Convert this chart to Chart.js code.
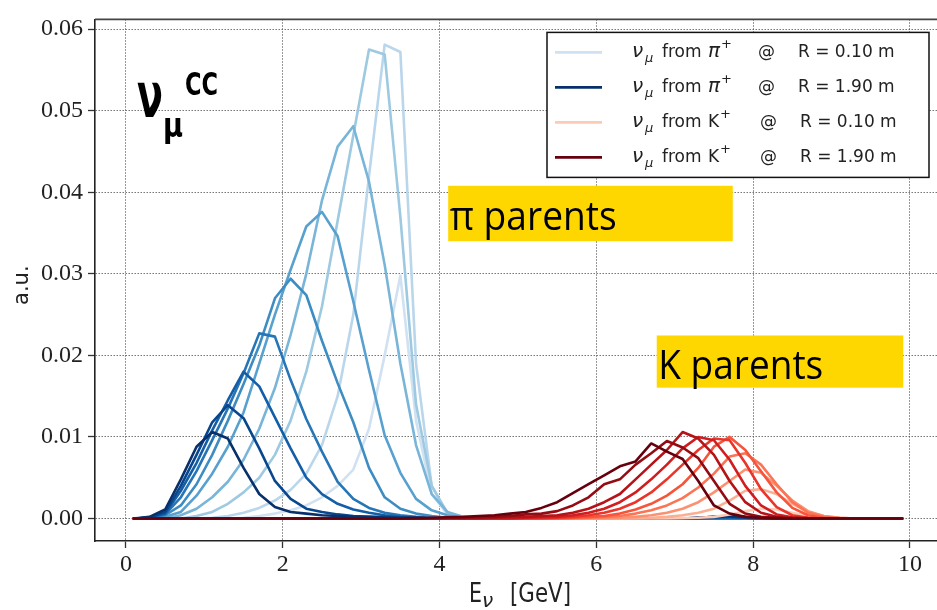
<!DOCTYPE html>
<html>
<head>
<meta charset="utf-8">
<script src="https://cdn.jsdelivr.net/npm/chart.js@4.4.1/dist/chart.umd.min.js"></script>
<style>
  html, body { margin: 0; padding: 0; background: #fff; }
  #wrap { width: 937px; height: 610px; }
</style>
</head>
<body>
<div id="wrap"><canvas id="fluxChart" width="937" height="610"></canvas></div>
<script>
// bin centres [GeV]
const energy = [0.1, 0.3, 0.5, 0.7, 0.9, 1.1, 1.3, 1.5, 1.7, 1.9,
                2.1, 2.3, 2.5, 2.7, 2.9, 3.1, 3.3, 3.5, 3.7, 3.9,
                4.1, 4.3, 4.5, 4.7, 4.9, 5.1, 5.3, 5.5, 5.7, 5.9,
                6.1, 6.3, 6.5, 6.7, 6.9, 7.1, 7.3, 7.5, 7.7, 7.9,
                8.1, 8.3, 8.5, 8.7, 8.9, 9.1, 9.3, 9.5, 9.7, 9.9];

const radii = ["0.10", "0.30", "0.50", "0.70", "0.90", "1.10", "1.30", "1.50", "1.70", "1.90"];

// nu_mu from pi+ , one array per radius
const pi_R010 = [0, 0, 0, 0, 0, 0, 0, 0.0001, 0.0003, 0.0006,
                 0.0010, 0.0016, 0.0026, 0.0040, 0.0060, 0.0110, 0.0200, 0.0298, 0.0120, 0.0030,
                 0.0005, 0, 0, 0, 0, 0, 0, 0, 0, 0,
                 0, 0, 0, 0, 0, 0, 0, 0, 0, 0,
                 0, 0, 0, 0, 0, 0, 0, 0, 0, 0];
const pi_R030 = [0, 0, 0, 0, 0, 0.0001, 0.0003, 0.0007, 0.0013, 0.0022,
                 0.0035, 0.0055, 0.0090, 0.0150, 0.0250, 0.0420, 0.0581, 0.0572, 0.0190, 0.0040,
                 0.0005, 0, 0, 0, 0, 0, 0, 0, 0, 0,
                 0, 0, 0, 0, 0, 0, 0, 0, 0, 0,
                 0, 0, 0, 0, 0, 0, 0, 0, 0, 0];
const pi_R050 = [0, 0, 0, 0, 0.0003, 0.0008, 0.0018, 0.0032, 0.0050, 0.0078,
                 0.0120, 0.0180, 0.0260, 0.0365, 0.0470, 0.0575, 0.0569, 0.0370, 0.0140, 0.0040,
                 0.0007, 0.0001, 0, 0, 0, 0, 0, 0, 0, 0,
                 0, 0, 0, 0, 0, 0, 0, 0, 0, 0,
                 0, 0, 0, 0, 0, 0, 0, 0, 0, 0];
const pi_R070 = [0, 0, 0, 0.0004, 0.0012, 0.0026, 0.0045, 0.0072, 0.0110, 0.0160,
                 0.0225, 0.0300, 0.0390, 0.0456, 0.0481, 0.0413, 0.0311, 0.0190, 0.0090, 0.0030,
                 0.0008, 0.0002, 0, 0, 0, 0, 0, 0, 0, 0,
                 0, 0, 0, 0, 0, 0, 0, 0, 0, 0,
                 0, 0, 0, 0, 0, 0, 0, 0, 0, 0];
const pi_R090 = [0, 0, 0.0002, 0.0008, 0.0028, 0.0055, 0.0088, 0.0130, 0.0190, 0.0250,
                 0.0305, 0.0358, 0.0376, 0.0346, 0.0266, 0.0182, 0.0102, 0.0056, 0.0024, 0.0010,
                 0.0004, 0.0001, 0, 0, 0, 0, 0, 0, 0, 0,
                 0, 0, 0, 0, 0, 0, 0, 0, 0, 0,
                 0, 0, 0, 0, 0, 0, 0, 0, 0, 0];
const pi_R110 = [0, 0.0001, 0.0004, 0.0016, 0.0042, 0.0078, 0.0120, 0.0165, 0.0212, 0.0270,
                 0.0294, 0.0274, 0.0218, 0.0166, 0.0118, 0.0062, 0.0026, 0.0012, 0.0006, 0.0003,
                 0.0001, 0, 0, 0, 0, 0, 0, 0, 0, 0,
                 0, 0, 0, 0, 0, 0, 0, 0, 0, 0,
                 0, 0, 0, 0, 0, 0, 0, 0, 0, 0];
const pi_R130 = [0, 0.0001, 0.0005, 0.0026, 0.0058, 0.0096, 0.0135, 0.0178, 0.0227, 0.0223,
                 0.0170, 0.0122, 0.0082, 0.0045, 0.0024, 0.0013, 0.0007, 0.0004, 0.0002, 0.0001,
                 0, 0, 0, 0, 0, 0, 0, 0, 0, 0,
                 0, 0, 0, 0, 0, 0, 0, 0, 0, 0,
                 0, 0, 0, 0, 0, 0, 0, 0, 0, 0];
const pi_R150 = [0, 0.0001, 0.0006, 0.0034, 0.0068, 0.0108, 0.0145, 0.0180, 0.0162, 0.0124,
                 0.0086, 0.0050, 0.0030, 0.0018, 0.0011, 0.0007, 0.0004, 0.0002, 0.0001, 0,
                 0, 0, 0, 0, 0, 0, 0, 0, 0, 0,
                 0, 0, 0, 0, 0, 0, 0, 0.0001, 0.0002, 0.0001,
                 0, 0, 0, 0, 0, 0, 0, 0, 0, 0];
const pi_R170 = [0, 0.0001, 0.0008, 0.0040, 0.0078, 0.0118, 0.0139, 0.0123, 0.0086, 0.0046,
                 0.0024, 0.0012, 0.0008, 0.0005, 0.0003, 0.0002, 0.0002, 0.0001, 0.0001, 0,
                 0, 0, 0, 0, 0, 0, 0, 0, 0, 0,
                 0, 0, 0, 0, 0, 0, 0.0001, 0.0002, 0.0002, 0.0001,
                 0, 0, 0, 0, 0, 0, 0, 0, 0, 0];
const pi_R190 = [0, 0.0002, 0.0011, 0.0048, 0.0088, 0.0106, 0.0098, 0.0062, 0.0030, 0.0014,
                 0.0008, 0.0006, 0.0004, 0.0003, 0.0002, 0.0002, 0.0001, 0.0001, 0.0001, 0,
                 0, 0, 0, 0, 0, 0, 0, 0, 0, 0,
                 0, 0, 0, 0, 0, 0, 0.0001, 0.0002, 0.0003, 0.0002,
                 0.0001, 0, 0, 0, 0, 0, 0, 0, 0, 0];

// nu_mu from K+ , one array per radius
const k_R010 = [0, 0, 0, 0, 0, 0, 0, 0, 0, 0,
                0, 0, 0, 0, 0, 0, 0, 0, 0, 0,
                0, 0, 0, 0, 0, 0, 0, 0, 0, 0,
                0, 0, 0, 0, 0, 0.00005, 0.0001, 0.0002, 0.0005, 0.0009,
                0.0012, 0.0011, 0.0007, 0.0003, 0.0001, 0.00003, 0, 0, 0, 0];
const k_R030 = [0, 0, 0, 0, 0, 0, 0, 0, 0, 0,
                0, 0, 0, 0, 0, 0, 0, 0, 0, 0,
                0, 0, 0, 0, 0, 0, 0, 0, 0, 0,
                0, 0, 0.00005, 0.0001, 0.0002, 0.0004, 0.0007, 0.0012, 0.0022, 0.0034,
                0.0036, 0.0030, 0.0018, 0.0008, 0.0003, 0.0001, 0, 0, 0, 0];
const k_R050 = [0, 0, 0, 0, 0, 0, 0, 0, 0, 0,
                0, 0, 0, 0, 0, 0, 0, 0, 0, 0,
                0, 0, 0, 0, 0, 0, 0, 0, 0, 0,
                0.00005, 0.0001, 0.0002, 0.0004, 0.0007, 0.0012, 0.0020, 0.0032, 0.0046, 0.0060,
                0.0056, 0.0040, 0.0022, 0.0009, 0.0003, 0.0001, 0, 0, 0, 0];
const k_R070 = [0, 0, 0, 0, 0, 0, 0, 0, 0, 0,
                0, 0, 0, 0, 0, 0, 0, 0, 0, 0,
                0, 0, 0, 0, 0, 0, 0, 0, 0, 0.0001,
                0.00015, 0.0003, 0.0006, 0.0010, 0.0016, 0.0025, 0.0038, 0.0055, 0.0076, 0.0080,
                0.0066, 0.0042, 0.0020, 0.0007, 0.0002, 0.00005, 0, 0, 0, 0];
const k_R090 = [0, 0, 0, 0, 0, 0, 0, 0, 0, 0,
                0, 0, 0, 0, 0, 0, 0, 0, 0, 0,
                0, 0, 0, 0, 0, 0, 0, 0, 0.0001, 0.0002,
                0.0003, 0.0006, 0.0011, 0.0018, 0.0028, 0.0042, 0.0062, 0.0088, 0.0100, 0.0084,
                0.0058, 0.0032, 0.0013, 0.0004, 0.0001, 0, 0, 0, 0, 0];
const k_R110 = [0, 0, 0, 0, 0, 0, 0, 0, 0, 0,
                0, 0, 0, 0, 0, 0, 0, 0, 0, 0,
                0, 0, 0, 0, 0, 0, 0.00005, 0.0001, 0.0002, 0.0004,
                0.0007, 0.0012, 0.0020, 0.0032, 0.0048, 0.0066, 0.0084, 0.0098, 0.0096, 0.0068,
                0.0036, 0.0014, 0.0004, 0.0001, 0, 0, 0, 0, 0, 0];
const k_R130 = [0, 0, 0, 0, 0, 0, 0, 0, 0, 0,
                0, 0, 0, 0, 0, 0, 0, 0, 0, 0,
                0, 0, 0, 0, 0, 0.0001, 0.00015, 0.0002, 0.0004, 0.0007,
                0.0012, 0.0020, 0.0032, 0.0048, 0.0066, 0.0086, 0.0100, 0.0096, 0.0072, 0.0040,
                0.0016, 0.0005, 0.00015, 0.00005, 0, 0, 0, 0, 0, 0];
const k_R150 = [0, 0, 0, 0, 0, 0, 0, 0, 0, 0,
                0, 0, 0, 0, 0, 0, 0, 0, 0, 0,
                0, 0, 0.00005, 0.0001, 0.00015, 0.0002, 0.0003, 0.0004, 0.0007, 0.0012,
                0.0020, 0.0030, 0.0048, 0.0066, 0.0084, 0.0106, 0.0098, 0.0078, 0.0046, 0.0020,
                0.0007, 0.0002, 0.0001, 0, 0, 0, 0, 0, 0, 0];
const k_R170 = [0, 0, 0, 0, 0, 0, 0, 0, 0, 0,
                0, 0, 0, 0, 0, 0, 0, 0, 0, 0,
                0.0001, 0.0001, 0.00015, 0.0002, 0.0003, 0.0005, 0.0006, 0.0009, 0.0016, 0.0026,
                0.0042, 0.0048, 0.0066, 0.0080, 0.0095, 0.0087, 0.0074, 0.0046, 0.0018, 0.0006,
                0.0002, 0.0001, 0, 0, 0, 0, 0, 0, 0, 0];
const k_R190 = [0, 0, 0, 0, 0, 0, 0, 0, 0, 0,
                0, 0, 0, 0, 0, 0, 0, 0, 0.00005, 0.0001,
                0.00015, 0.0002, 0.0003, 0.0004, 0.0006, 0.0008, 0.0013, 0.0020, 0.0031, 0.0042,
                0.0053, 0.0064, 0.0070, 0.0092, 0.0082, 0.0073, 0.0046, 0.0016, 0.0006, 0.0002,
                0.0001, 0.00005, 0, 0, 0, 0, 0, 0, 0, 0];

const piFlux = [pi_R010, pi_R030, pi_R050, pi_R070, pi_R090, pi_R110, pi_R130, pi_R150, pi_R170, pi_R190];
const kFlux = [k_R010, k_R030, k_R050, k_R070, k_R090, k_R110, k_R130, k_R150, k_R170, k_R190];

const xTicks = [0, 2, 4, 6, 8, 10];
const yTicks = [0, 0.01, 0.02, 0.03, 0.04, 0.05, 0.06];

// Blues / Reds colormap samples, light (R=0.10) -> dark (R=1.90)
const blueColors = ["#d0e1f2", "#bad6eb", "#9dc9e1", "#78b5d9", "#58a1cf",
                    "#3d8dc3", "#2676b7", "#135ea7", "#08478e", "#08306b"];
const redColors = ["#fdcab5", "#fcae92", "#fc9171", "#fb7454", "#f6553c",
                   "#ea362a", "#d01d1f", "#b51318", "#930b13", "#67000d"];

function makeLine(label, vals, color) {
  return {
    label,
    data: energy.map((e, j) => ({ x: e, y: vals[j] })),
    borderColor: color,
    backgroundColor: color,
    borderWidth: 2.6,
    pointRadius: 0,
    tension: 0,
    fill: false,
    borderJoinStyle: "round",
    borderCapStyle: "round"
  };
}

const datasets = [];
piFlux.forEach((v, i) => datasets.push(makeLine(`nu_mu from pi+ @ R = ${radii[i]} m`, v, blueColors[i])));
kFlux.forEach((v, i) => datasets.push(makeLine(`nu_mu from K+ @ R = ${radii[i]} m`, v, redColors[i])));
// later datasets on top
datasets.forEach((d, i) => { d.order = -i; });

const legendRows = [
  { color: blueColors[0], parent: "pi", r: radii[0] },
  { color: blueColors[9], parent: "pi", r: radii[9] },
  { color: redColors[0], parent: "K", r: radii[0] },
  { color: redColors[9], parent: "K", r: radii[9] }
];

const boxes = [
  { text: "π parents", x0: 4.11, x1: 7.74, y0: 0.0340, y1: 0.0408, tx0: 4.13, tx1: 6.26, ty: 0.0354 },
  { text: "K parents", x0: 6.77, x1: 9.915, y0: 0.01604, y1: 0.02244, tx0: 6.79, tx1: 8.894, ty: 0.01716 }
];

function fitText(ctx, text, x, y, width, font) {
  ctx.font = font;
  const w = ctx.measureText(text).width;
  ctx.save();
  ctx.translate(x, y);
  ctx.scale(width / w, 1);
  ctx.fillText(text, 0, 0);
  ctx.restore();
}

const overlay = {
  id: "overlay",
  afterDraw(chart) {
    const { ctx, chartArea: a, scales: { x, y } } = chart;
    ctx.save();
    ctx.textAlign = "left";
    ctx.textBaseline = "alphabetic";

    // top frame line
    ctx.strokeStyle = "#444";
    ctx.lineWidth = 1.6;
    ctx.beginPath();
    ctx.moveTo(a.left, a.top);
    ctx.lineTo(a.right, a.top);
    ctx.stroke();

    // yellow labels
    boxes.forEach(b => {
      const px0 = x.getPixelForValue(b.x0), px1 = x.getPixelForValue(b.x1);
      const py0 = y.getPixelForValue(b.y1), py1 = y.getPixelForValue(b.y0);
      ctx.fillStyle = "#ffd700";
      ctx.fillRect(px0, py0, px1 - px0, py1 - py0);
      ctx.fillStyle = "#000";
      const tx0 = x.getPixelForValue(b.tx0), tx1 = x.getPixelForValue(b.tx1);
      fitText(ctx, b.text, tx0, y.getPixelForValue(b.ty), tx1 - tx0, "500 41px 'Open Sans'");
    });

    // nu_mu^CC
    ctx.fillStyle = "#000";
    fitText(ctx, "ν", a.left + 42, a.top + 98, 26, "bold 62px 'DejaVu Sans'");
    fitText(ctx, "μ", a.left + 68, a.top + 118, 20, "bold 34px 'DejaVu Sans'");
    fitText(ctx, "CC", a.left + 90, a.top + 76, 33, "bold 32px 'DejaVu Sans'");

    // legend
    const lw = 382, lh = 145;
    const lx = a.right - 8 - lw, ly = a.top + 13;
    ctx.fillStyle = "#fff";
    ctx.fillRect(lx, ly, lw, lh);
    ctx.strokeStyle = "#111";
    ctx.lineWidth = 1.5;
    ctx.strokeRect(lx, ly, lw, lh);
    legendRows.forEach((row, i) => {
      const cy = ly + 20 + 35 * i;
      const base = cy + 5;
      const isPi = row.parent === "pi";
      ctx.strokeStyle = row.color;
      ctx.lineWidth = 2.6;
      ctx.beginPath();
      ctx.moveTo(lx + 8, cy);
      ctx.lineTo(lx + 55, cy);
      ctx.stroke();
      ctx.fillStyle = "#222";
      ctx.font = "italic 20px 'DejaVu Sans'";
      ctx.fillText("ν", lx + 85, base);
      ctx.font = "italic 13px 'DejaVu Sans'";
      ctx.fillText("μ", lx + 98, base + 5);
      ctx.font = "17px 'DejaVu Sans'";
      ctx.fillText("from", lx + 115, base);
      if (isPi) {
        ctx.font = "italic 20px 'DejaVu Sans'";
        ctx.fillText("π", lx + 161, base);
      } else {
        ctx.font = "17px 'DejaVu Sans'";
        ctx.fillText("K", lx + 161, base);
      }
      ctx.font = "13px 'DejaVu Sans'";
      ctx.fillText("+", lx + (isPi ? 174 : 173), base - 9);
      ctx.font = "17px 'DejaVu Sans'";
      ctx.fillText("@", lx + (isPi ? 211 : 213), base);
      ctx.fillText(`R = ${row.r} m`, lx + (isPi ? 251 : 253), base);
    });

    // axis titles
    ctx.fillStyle = "#222";
    fitText(ctx, "E", 469, 602, 13, "26px 'DejaVu Sans'");
    ctx.font = "italic 20px 'DejaVu Sans'";
    ctx.fillText("ν", 482, 607);
    fitText(ctx, "[GeV]", 510, 602, 61, "26px 'DejaVu Sans'");

    ctx.save();
    ctx.translate(28, (a.top + a.bottom) / 2 + 5);
    ctx.rotate(-Math.PI / 2);
    ctx.textAlign = "center";
    ctx.font = "21px 'DejaVu Sans'";
    ctx.fillText("a.u.", 0, 0);
    ctx.restore();

    ctx.restore();
  }
};

const gridStyle = {
  color: "#555",
  lineWidth: 1,
  tickColor: "#333",
  tickLength: 7,
  tickWidth: 1.3,
  tickBorderDash: []
};

new Chart(document.getElementById("fluxChart"), {
  type: "line",
  data: { datasets },
  options: {
    responsive: false,
    animation: false,
    devicePixelRatio: 1,
    layout: { padding: { top: 8, right: 0, bottom: 0, left: 0 } },
    plugins: { legend: { display: false }, tooltip: { enabled: false } },
    scales: {
      x: {
        type: "linear",
        min: -0.395,
        max: 10.345,
        afterFit: s => { s.height = 69; },
        afterBuildTicks: s => { s.ticks = xTicks.map(v => ({ value: v })); },
        ticks: {
          font: { family: "'Liberation Serif'", size: 24 },
          color: "#222",
          padding: 2,
          maxRotation: 0,
          callback: v => String(v)
        },
        grid: gridStyle,
        border: { color: "#222", width: 1.6, dash: [1.2, 1.8] }
      },
      y: {
        type: "linear",
        min: -0.00276,
        max: 0.0612,
        afterFit: s => { s.width = 95; },
        afterBuildTicks: s => { s.ticks = yTicks.map(v => ({ value: v })); },
        ticks: {
          font: { family: "'Liberation Serif'", size: 24 },
          color: "#222",
          padding: 5,
          callback: v => v.toFixed(2)
        },
        grid: gridStyle,
        border: { color: "#222", width: 1.6, dash: [1.2, 1.8] }
      }
    }
  },
  plugins: [overlay]
});
</script>
</body>
</html>
